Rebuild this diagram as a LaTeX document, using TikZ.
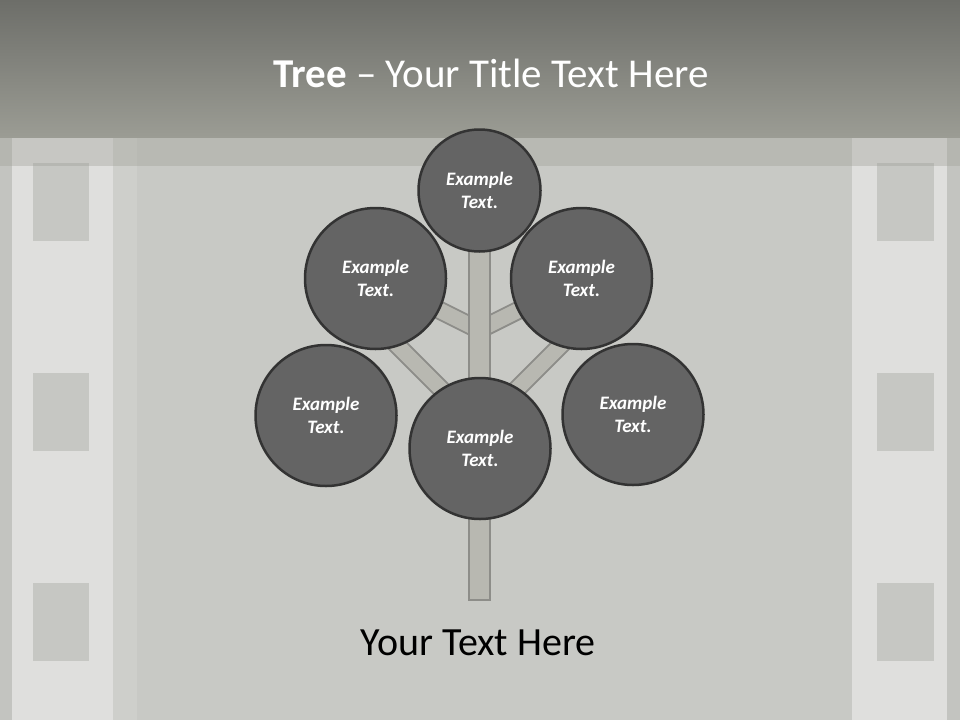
\documentclass[tikz,border=0pt]{standalone}
\usepackage{fontspec}
\setmainfont{Carlito}
\definecolor{bgmain}{HTML}{C8C9C5}
\definecolor{bandtop}{HTML}{6D6E69}
\definecolor{bandbot}{HTML}{9B9C94}
\definecolor{stripc}{HTML}{DFDFDD}
\definecolor{holec}{HTML}{C6C7C3}
\definecolor{edgec}{HTML}{C3C4C0}
\definecolor{circfill}{HTML}{646464}
\definecolor{circline}{HTML}{333333}
\definecolor{woodfill}{HTML}{B8B8B1}
\definecolor{woodline}{HTML}{8D8D89}
\begin{document}
\begin{tikzpicture}[x=1pt,y=-1pt,
  leaf/.style={circle,draw=circline,line width=2.5pt,fill=circfill,inner sep=0pt,
    minimum size=141pt,text=white,align=center,
    font=\fontsize{19}{23}\selectfont\bfseries\itshape},
  smallleaf/.style={leaf,minimum size=122pt},
  hole/.style={fill=holec,draw=none},
  branchout/.style={draw=woodline,line width=19pt},
  branchin/.style={draw=woodfill,line width=15pt}]
\useasboundingbox (0,0) rectangle (960,720);
% background
\fill[bgmain] (0,0) rectangle (960,720);
\fill[edgec] (0,137) rectangle (12,720);
\fill[stripc] (12,137) rectangle (113,720);
\fill[bgmain!75!stripc] (113,137) rectangle (137,720);
\fill[stripc] (852,137) rectangle (947,720);
\fill[edgec] (947,137) rectangle (960,720);
\foreach \y in {163,373,583}{
  \fill[hole] (33,\y) rectangle (89,\y+78);
  \fill[hole] (877,\y) rectangle (934,\y+78);
}
\fill[bandbot,opacity=0.35] (0,137) rectangle (960,166);
\shade[top color=bandtop,bottom color=bandbot] (0,0) rectangle (960,137);
% title
\node[text=white,font=\fontsize{41}{48}\selectfont,anchor=base] (title) at (491,87)
  {\textbf{Tree} – Your Title Text Here};
% branches
\coordinate (bul1) at (479,330);
\coordinate (bul2) at (375,278);
\coordinate (bll1) at (479,427);
\coordinate (bll2) at (385,333);
\coordinate (bur1) at (479,330);
\coordinate (bur2) at (583,278);
\coordinate (blr1) at (479,427);
\coordinate (blr2) at (573,333);
\foreach \a/\b in {bul1/bul2,bll1/bll2,bur1/bur2,blr1/blr2}{
  \draw[branchout] (\a) -- (\b);
  \draw[branchin] (\a) -- (\b);
}
% trunk
\node[draw=woodline,line width=2pt,fill=woodfill,minimum width=21pt,minimum height=350pt,
  inner sep=0pt] (trunk) at (479,425) {};
% leaves
\node[smallleaf] (top) at (479.5,190.5) {Example\\Text.};
\node[leaf] (ul) at (375.5,278.5) {Example\\Text.};
\node[leaf] (ur) at (581.5,278.5) {Example\\Text.};
\node[leaf] (ll) at (326,415.5) {Example\\Text.};
\node[leaf] (cc) at (480,448.5) {Example\\Text.};
\node[leaf] (rr) at (633,414.5) {Example\\Text.};
% bottom text
\node[text=black,font=\fontsize{40}{48}\selectfont,anchor=base] (bottom) at (478,655) {Your Text Here};
\end{tikzpicture}
\end{document}
